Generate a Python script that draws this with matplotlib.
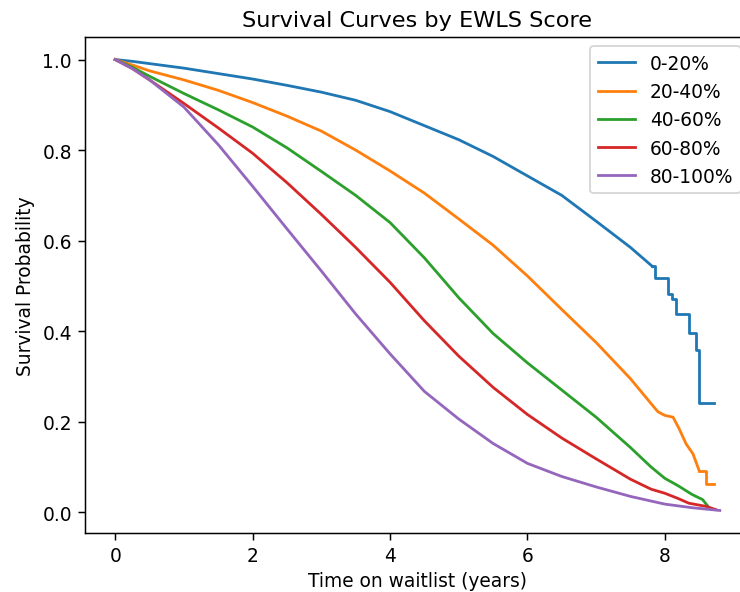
import matplotlib
matplotlib.use("Agg")
import matplotlib.pyplot as plt

labels = ["0-20%", "20-40%", "40-60%", "60-80%", "80-100%"]

# 0-20%
t_blue = [0, 0.25, 0.5, 1, 1.5, 2, 2.5, 3, 3.5, 4, 4.5, 5, 5.5, 6, 6.5, 7, 7.5, 7.82]
s_blue = [1.0, 0.996, 0.991, 0.981, 0.969, 0.957, 0.943, 0.928, 0.910, 0.885, 0.854, 0.823, 0.786, 0.743, 0.700, 0.643, 0.585, 0.543]
t_blue_tail = [7.82, 7.86, 8.04, 8.10, 8.16, 8.35, 8.46, 8.50, 8.72]
s_blue_tail = [0.543, 0.518, 0.483, 0.472, 0.439, 0.396, 0.359, 0.242, 0.242]

# 20-40%
t_orange = [0, 0.25, 0.5, 1, 1.5, 2, 2.5, 3, 3.5, 4, 4.5, 5, 5.5, 6, 6.5, 7, 7.5, 7.8, 7.9, 8.0, 8.12, 8.21, 8.31, 8.41, 8.50]
s_orange = [1.0, 0.988, 0.975, 0.955, 0.932, 0.905, 0.875, 0.842, 0.800, 0.754, 0.705, 0.648, 0.590, 0.522, 0.448, 0.375, 0.295, 0.240, 0.222, 0.214, 0.210, 0.184, 0.151, 0.129, 0.092]
t_orange_tail = [8.50, 8.60, 8.71]
s_orange_tail = [0.092, 0.062, 0.062]

# 40-60%
t_green = [0, 0.25, 0.5, 1, 1.5, 2, 2.5, 3, 3.5, 4, 4.5, 5, 5.5, 6, 6.5, 7, 7.5, 7.8, 8, 8.2, 8.4, 8.55, 8.65]
s_green = [1.0, 0.983, 0.963, 0.925, 0.889, 0.851, 0.805, 0.753, 0.700, 0.640, 0.562, 0.474, 0.395, 0.330, 0.270, 0.210, 0.143, 0.100, 0.075, 0.058, 0.039, 0.028, 0.009]

# 60-80%
t_red = [0, 0.25, 0.5, 1, 1.5, 2, 2.5, 3, 3.5, 4, 4.5, 5, 5.5, 6, 6.5, 7, 7.5, 7.8, 8, 8.2, 8.35, 8.6, 8.74]
s_red = [1.0, 0.980, 0.955, 0.903, 0.849, 0.793, 0.728, 0.658, 0.585, 0.508, 0.423, 0.345, 0.276, 0.216, 0.164, 0.118, 0.073, 0.051, 0.042, 0.030, 0.020, 0.013, 0.006]

# 80-100%
t_purple = [0, 0.25, 0.5, 1, 1.5, 2, 2.5, 3, 3.5, 4, 4.5, 5, 5.5, 6, 6.5, 7, 7.5, 8, 8.4, 8.8]
s_purple = [1.0, 0.980, 0.955, 0.895, 0.812, 0.720, 0.626, 0.533, 0.438, 0.350, 0.267, 0.206, 0.152, 0.108, 0.079, 0.056, 0.035, 0.018, 0.010, 0.004]

colors = ["#1f77b4", "#ff7f0e", "#2ca02c", "#d62728", "#9467bd"]

DPI = 134
fig = plt.figure(figsize=(740 / DPI, 593 / DPI), dpi=DPI)
ax = fig.add_axes([85 / 740, (593 - 534) / 593, 665 / 740, 496 / 593])

ax.plot(t_blue, s_blue, color=colors[0], label=labels[0])
ax.plot(t_blue_tail, s_blue_tail, color=colors[0], drawstyle="steps-post")
ax.plot(t_orange, s_orange, color=colors[1], label=labels[1])
ax.plot(t_orange_tail, s_orange_tail, color=colors[1], drawstyle="steps-post")
ax.plot(t_green, s_green, color=colors[2], label=labels[2])
ax.plot(t_red, s_red, color=colors[3], label=labels[3])
ax.plot(t_purple, s_purple, color=colors[4], label=labels[4])

ax.set_title("Survival Curves by EWLS Score")
ax.set_xlabel("Time on waitlist (years)", labelpad=3)
ax.set_ylabel("Survival Probability")
ax.legend(loc="upper right")

fig.savefig("out.png", dpi=DPI)
